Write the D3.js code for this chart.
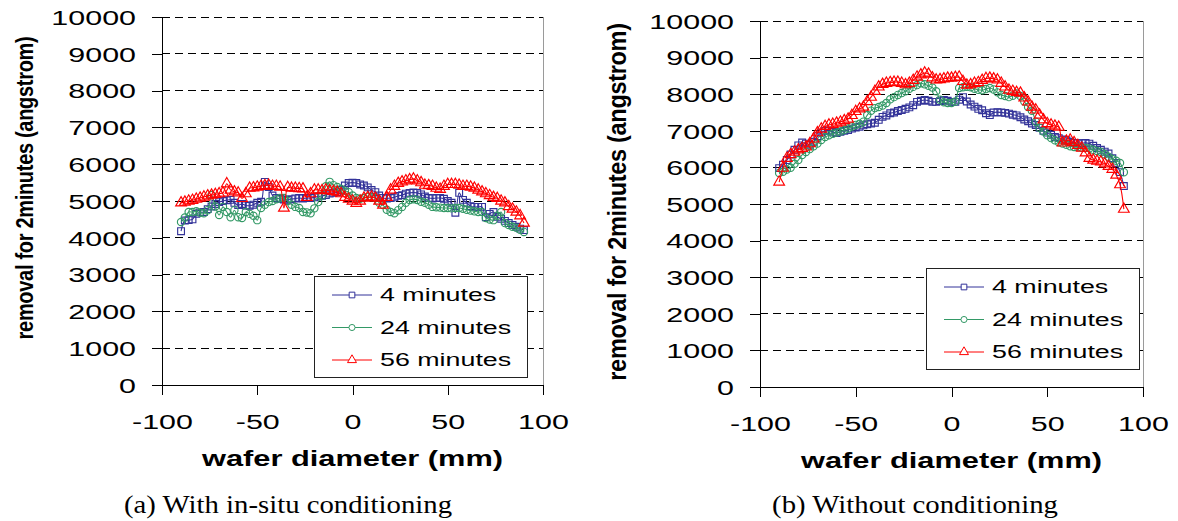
<!DOCTYPE html>
<html>
<head>
<meta charset="utf-8">
<script src="https://cdn.jsdelivr.net/npm/d3@7"></script>
<style>
  html, body { margin: 0; padding: 0; background: #fff; }
  svg { display: block; }
</style>
</head>
<body>
<svg id="fig" width="1178" height="521"></svg>
<script>
// Measurement positions across the wafer (mm)
const positions = [
  -90, -88, -86, -84, -82, -80, -78, -76, -74, -72,
  -70, -68, -66, -64, -62, -60, -58, -56, -54, -52,
  -50, -48, -46, -44, -42, -40, -38, -36, -34, -32,
  -30, -28, -26, -24, -22, -20, -18, -16, -14, -12,
  -10, -8, -6, -4, -2, 0, 2, 4, 6, 8,
  10, 12, 14, 16, 18, 20, 22, 24, 26, 28,
  30, 32, 34, 36, 38, 40, 42, 44, 46, 48,
  50, 52, 54, 56, 58, 60, 62, 64, 66, 68,
  70, 72, 74, 76, 78, 80, 82, 84, 86, 88,
  90
];

const seriesNames = ["4 minutes", "24 minutes", "56 minutes"];
const xTicks = [-100, -50, 0, 50, 100];
const yTicks = [0, 1000, 2000, 3000, 4000, 5000, 6000, 7000, 8000, 9000, 10000];
const captions = ["(a) With in-situ conditioning", "(b) Without conditioning"];
const xTitle = "wafer diameter (mm)";
const yTitle = "removal for 2minutes (angstrom)";

// (a) with in-situ conditioning — removal (angstrom)
const insitu4 = [
  4180, 4470, 4480, 4500, 4650, 4690, 4700, 4780, 4850, 4920,
  4970, 5000, 5020, 5030, 4950, 4890, 4920, 4880, 4870, 4900,
  4950, 4980, 5520, 5380, 5150, 5080, 5060, 5040, 5030, 5050,
  5070, 5080, 5070, 5080, 5080, 5100, 5120, 5140, 5160, 5200,
  5220, 5240, 5300, 5420, 5490, 5500, 5490, 5450, 5420, 5370,
  5300, 5240, 5150, 5080, 5070, 5080, 5100, 5140, 5160, 5200,
  5220, 5230, 5220, 5180, 5120, 5080, 5070, 5080, 5080, 5060,
  5000, 4950, 4680, 5220, 5030, 4950, 4860, 4840, 4840, 4840,
  4560, 4650, 4700, 4570, 4520, 4460, 4400, 4350, 4300, 4250,
  4210
];
const insitu24 = [
  4430, 4550, 4700, 4700, 4720, 4680, 4670, 4750, 5160, 4850,
  4620, 4840, 4700, 4560, 4750, 4560, 4540, 4700, 4650, 4600,
  4480, 4810, 4900, 4970, 5000, 5050, 5080, 5080, 5000, 4900,
  4840, 4810, 4700, 4690, 4670, 4800, 4970, 5150, 5400, 5520,
  5430, 5380, 5330, 5280, 5240, 5150, 5080, 5060, 5080, 5110,
  5100, 5080, 4950, 4890, 4760, 4700, 4670, 4750, 4840, 4950,
  5030, 5050, 5030, 4980, 4950, 4900, 4840, 4830, 4820, 4810,
  4810, 4800, 4810, 4810, 4790, 4760, 4740, 4720, 4700, 4700,
  4540, 4500, 4480, 4600, 4700, 4400, 4350, 4300, 4270, 4220,
  4160
];
const insitu56 = [
  4950, 4970, 5000, 5020, 5050, 5080, 5110, 5140, 5160, 5180,
  5200, 5220, 5470, 5300, 5250, 5220, 5070, 5200, 5350, 5360,
  5380, 5400, 5420, 5430, 5400, 5400, 5380, 4810, 5370, 5350,
  5350, 5340, 5330, 5100, 5200, 5300, 5300, 5280, 5300, 5280,
  5260, 5240, 5200, 5100, 5050, 5000, 4940, 5000, 5080, 5100,
  5110, 5080, 5000, 4890, 5100, 5300, 5400, 5480, 5520, 5550,
  5580, 5600, 5550, 5500, 5430, 5420, 5400, 5350, 5320, 5400,
  5450, 5450, 5450, 5430, 5400, 5400, 5380, 5350, 5300, 5250,
  5200, 5150, 5100, 5070, 5000, 4950, 4850, 4780, 4700, 4600,
  4400
];

// (b) without conditioning — removal (angstrom)
const plain4 = [
  5980, 6070, 6200, 6350, 6480, 6600, 6680, 6650, 6620, 6700,
  6850, 6950, 7000, 7010, 6970, 6940, 6970, 7000, 7020, 7060,
  7090, 7110, 7150, 7180, 7200, 7220, 7300, 7380, 7420, 7480,
  7500, 7540, 7570, 7600, 7640, 7700, 7790, 7820, 7840, 7820,
  7790, 7790, 7810, 7840, 7820, 7790, 7790, 7850, 7920, 7800,
  7720, 7660, 7600, 7560, 7480, 7430, 7500, 7510, 7500, 7490,
  7470, 7440, 7420, 7370, 7310, 7260, 7200, 7160, 7080, 7000,
  6950, 6890, 6830, 6800, 6760, 6740, 6700, 6670, 6660, 6660,
  6670, 6650, 6590, 6530, 6480, 6430, 6380, 6250, 6120, 5870,
  5490
];
const plain24 = [
  5850, 5880, 5940, 5990, 6100, 6200, 6340, 6420, 6500, 6580,
  6650, 6750, 6830, 6880, 6920, 6950, 6980, 7020, 7060, 7120,
  7160, 7190, 7250, 7430, 7550, 7620, 7650, 7690, 7760, 7860,
  7920, 7980, 8030, 8080, 8150, 8200, 8250, 8300, 8270, 8230,
  8180, 8080, 7850, 7780, 7760, 7760, 7800, 8170, 8190, 8200,
  8190, 8150, 8120, 8110, 8140, 8170, 8130, 8050, 7980, 7950,
  7920, 7960, 8020, 7950, 7800, 7650, 7550, 7250, 7080, 6980,
  6880, 6800, 6740, 6690, 6650, 6620, 6580, 6560, 6550, 6540,
  6530, 6520, 6480, 6450, 6420, 6360, 6290, 6230, 6180, 6120,
  5870
];
const plain56 = [
  5600, 5980, 6250, 6350, 6420, 6480, 6520, 6560, 6650, 6780,
  6950, 7050, 7120, 7160, 7180, 7210, 7240, 7280, 7320, 7420,
  7530, 7600, 7650, 7800, 7920, 8080, 8200, 8270, 8300, 8320,
  8330, 8330, 8300, 8260, 8300, 8380, 8470, 8530, 8580, 8550,
  8450, 8390, 8400, 8420, 8440, 8440, 8460, 8470, 8350, 8250,
  8260, 8300, 8320, 8380, 8430, 8440, 8420, 8390, 8300, 8200,
  8110, 8080, 8050, 8030, 7900, 7790, 7650, 7570, 7430, 7300,
  7200, 7160, 7130, 7100, 6670, 6720, 6750, 6680, 6600, 6530,
  6400, 6250, 6200, 6170, 6150, 6100, 6030, 5950, 5790, 5530,
  4860
];

// Series styling: colour and marker symbol
const styles = [
  { color: "#333399", symbol: d3.symbolSquare, size: 46 },
  { color: "#339966", symbol: d3.symbolCircle, size: 42 },
  { color: "#ff0000", symbol: d3.symbolTriangle, size: 50 }
];

const SANS = "'Liberation Sans', Arial, sans-serif";
const SERIF = "'Liberation Serif', 'Times New Roman', serif";
const TICK_SIZE = 21, TICK_SX = 1.45;
const plainNumber = d => String(d);

const panels = [
  { data: [insitu4, insitu24, insitu56], caption: captions[0],
    left: 162, right: 543, bottom: 385, top: 17,
    yTitle: { x: 25, y: 188, size: 20, stretch: 1.2 },
    legend: { x: 314, y: 276 }, captionX: 288 },
  { data: [plain4, plain24, plain56], caption: captions[1],
    left: 760, right: 1143, bottom: 387, top: 21,
    yTitle: { x: 617, y: 202, size: 23.5, stretch: 1.12 },
    legend: { x: 926, y: 268 }, captionX: 915 }
];

const svg = d3.select("#fig");
svg.append("rect").attr("width", 1178).attr("height", 521).attr("fill", "#fff");

// horizontally stretched label helper
function label(g, txt, x, y, opts) {
  const t = g.append("text")
    .attr("transform", `translate(${x},${y}) scale(${opts.sx || 1},1)`)
    .attr("text-anchor", opts.anchor || "start")
    .attr("font-family", opts.family || SANS)
    .attr("font-size", opts.size)
    .attr("font-weight", opts.weight || "normal")
    .attr("fill", "#000")
    .text(txt);
  if (opts.dy) t.attr("dy", opts.dy);
  return t;
}

panels.forEach(p => {
  const g = svg.append("g");
  const x = d3.scaleLinear().domain([-100, 100]).range([p.left, p.right]);
  const y = d3.scaleLinear().domain([0, 10000]).range([p.bottom, p.top]);

  // dashed horizontal gridlines
  g.append("g").selectAll("line")
    .data(yTicks.filter(v => v > 0))
    .join("line")
    .attr("x1", p.left).attr("x2", p.right)
    .attr("y1", d => y(d)).attr("y2", d => y(d))
    .attr("stroke", "#000").attr("stroke-width", 1)
    .attr("stroke-dasharray", "8,5")
    .attr("shape-rendering", "crispEdges");

  // light right-hand frame
  g.append("line")
    .attr("x1", p.right).attr("x2", p.right)
    .attr("y1", y(10000)).attr("y2", y(0))
    .attr("stroke", "#9a9a9a").attr("stroke-width", 1)
    .attr("shape-rendering", "crispEdges");

  // y axis
  const yAxis = g.append("g")
    .attr("transform", `translate(${p.left},0)`)
    .call(d3.axisLeft(y).tickValues(yTicks).tickSize(10).tickSizeOuter(0).tickFormat(plainNumber));
  yAxis.select(".domain").attr("stroke", "#000").attr("shape-rendering", "crispEdges");
  yAxis.selectAll(".tick line").attr("stroke", "#000").attr("shape-rendering", "crispEdges");
  yAxis.selectAll(".tick text")
    .attr("font-family", SANS).attr("font-size", TICK_SIZE).attr("fill", "#000")
    .attr("x", -26 / TICK_SX).attr("dy", "0.35em")
    .attr("transform", `scale(${TICK_SX},1)`);

  // x axis
  const xAxis = g.append("g")
    .attr("transform", `translate(0,${p.bottom})`)
    .call(d3.axisBottom(x).tickValues(xTicks).tickSize(10).tickSizeOuter(0).tickFormat(plainNumber));
  xAxis.select(".domain").attr("stroke", "#000").attr("shape-rendering", "crispEdges");
  xAxis.selectAll(".tick line").attr("stroke", "#000").attr("shape-rendering", "crispEdges");
  xAxis.selectAll(".tick text")
    .attr("font-family", SANS).attr("font-size", TICK_SIZE).attr("fill", "#000")
    .attr("y", 44).attr("dy", 0)
    .attr("transform", `scale(${TICK_SX},1)`);

  // series: lines then open markers
  p.data.forEach((vals, si) => {
    const st = styles[si];
    const pts = positions.map((px, i) => [px, vals[i]]);
    const line = d3.line().x(d => x(d[0])).y(d => y(d[1])).curve(d3.curveCatmullRom.alpha(0.5));
    const sg = g.append("g");
    sg.append("path").datum(pts)
      .attr("d", line).attr("fill", "none")
      .attr("stroke", st.color).attr("stroke-width", 1.1);
    sg.selectAll("path.m").data(pts).join("path")
      .attr("class", "m")
      .attr("d", d3.symbol(st.symbol, st.size))
      .attr("transform", d => `translate(${x(d[0])},${y(d[1])})`)
      .attr("fill", "none").attr("stroke", st.color).attr("stroke-width", 1.15);
  });

  // legend
  const lg = g.append("g").attr("transform", `translate(${p.legend.x},${p.legend.y})`);
  lg.append("rect").attr("width", 213).attr("height", 101)
    .attr("fill", "#fff").attr("stroke", "#222").attr("stroke-width", 1)
    .attr("shape-rendering", "crispEdges");
  seriesNames.forEach((name, si) => {
    const st = styles[si];
    const ry = 19 + si * 32.5;
    lg.append("line").attr("x1", 18).attr("x2", 58).attr("y1", ry).attr("y2", ry)
      .attr("stroke", st.color).attr("stroke-width", 1);
    lg.append("path").attr("d", d3.symbol(st.symbol, st.size * 0.7))
      .attr("transform", `translate(38,${ry})`)
      .attr("fill", "#fff").attr("stroke", st.color).attr("stroke-width", 1);
    label(lg, name, 66, ry, { size: 18.5, sx: 1.45, dy: "0.35em" });
  });

  // axis titles
  label(g, xTitle, (p.left + p.right) / 2, p.bottom + 81, { size: 22, sx: 1.4, anchor: "middle", weight: "bold" });
  g.append("text")
    .attr("transform", `translate(${p.yTitle.x},${p.yTitle.y}) rotate(-90) scale(1,${p.yTitle.stretch})`)
    .attr("text-anchor", "middle").attr("dy", "0.35em")
    .attr("font-family", SANS).attr("font-weight", "bold").attr("font-size", p.yTitle.size)
    .attr("letter-spacing", -0.3)
    .attr("fill", "#000").text(yTitle);

  // caption below panel
  label(svg, p.caption, p.captionX, 513, { size: 25, sx: 1.15, anchor: "middle", family: SERIF });
});
</script>
</body>
</html>
